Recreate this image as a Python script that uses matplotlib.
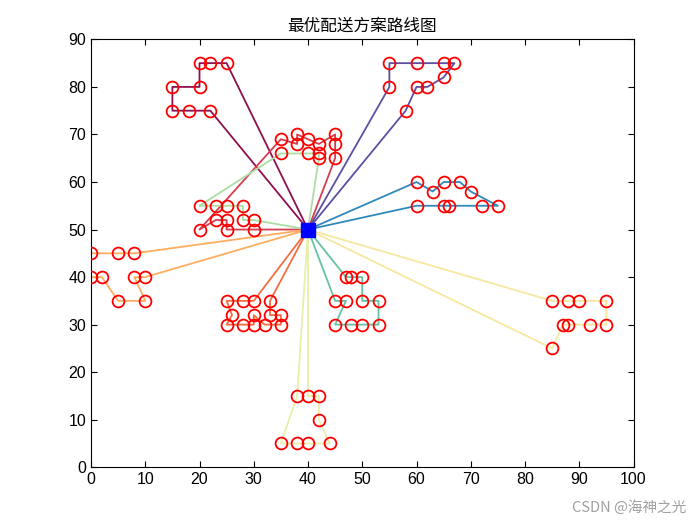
import matplotlib
matplotlib.use("Agg")
import matplotlib.pyplot as plt

plt.rcParams['font.family'] = ['Liberation Sans', 'Noto Sans CJK SC', 'DejaVu Sans']

depot = (40, 50)

# routes as lists of customer (x, y) coordinates
route_names = ["R1", "R2", "R3", "R4", "R5", "R6", "R7", "R8", "R9", "R10"]
routes_x = [
    [22, 18, 15, 15, 20, 20, 22, 25],
    [45, 45, 45, 42, 40, 38, 38, 35, 20, 23, 25, 25, 30],
    [33, 33, 35, 35, 32, 30, 30, 28, 25, 26, 25, 28, 30],
    [10, 8, 10, 5, 2, 0, 0, 5, 8],
    [85, 88, 90, 95, 95, 92, 88, 87, 85],
    [40, 42, 42, 44, 40, 38, 35, 38],
    [30, 28, 28, 25, 23, 20, 35, 40, 42, 42],
    [47, 48, 50, 50, 53, 53, 50, 48, 45, 47, 45],
    [60, 63, 65, 68, 70, 75, 72, 66, 65, 60],
    [55, 55, 60, 65, 67, 65, 62, 60, 58],
]
routes_y = [
    [75, 75, 75, 80, 80, 85, 85, 85],
    [65, 68, 70, 68, 69, 70, 68, 69, 50, 52, 52, 50, 50],
    [35, 32, 32, 30, 30, 32, 30, 30, 30, 32, 35, 35, 35],
    [40, 40, 35, 35, 40, 40, 45, 45, 45],
    [35, 35, 35, 35, 30, 30, 30, 30, 25],
    [15, 15, 10, 5, 5, 5, 5, 15],
    [52, 52, 55, 55, 55, 55, 66, 66, 66, 65],
    [40, 40, 40, 35, 35, 30, 30, 30, 30, 35, 35],
    [60, 58, 60, 60, 58, 55, 55, 55, 55, 55],
    [80, 85, 85, 85, 85, 82, 80, 80, 75],
]
route_colors = ["#8e1050", "#d53e4f", "#f46d43", "#fdae61", "#f6e8a0",
                "#e8f0a8", "#abdda4", "#66c2a5", "#3288bd", "#5e4fa2"]

fig = plt.figure(figsize=(7, 5.25), dpi=100)
ax = fig.add_axes([0.13, 0.11, 0.775, 0.815])

for xs, ys, c in zip(routes_x, routes_y, route_colors):
    px = [depot[0]] + xs + [depot[0]]
    py = [depot[1]] + ys + [depot[1]]
    ax.plot(px, py, '-', color=c, lw=1.3, zorder=2)

for xs, ys in zip(routes_x, routes_y):
    ax.plot(xs, ys, 'o', mfc='none', mec='red', ms=8.5, mew=1.3, zorder=3, ls='none')

ax.plot([depot[0]], [depot[1]], 's', color='blue', ms=10, zorder=4)

ax.set_xlim(0, 100)
ax.set_ylim(0, 90)
ax.set_xticks(range(0, 101, 10))
ax.set_yticks(range(0, 91, 10))
ax.tick_params(direction='in', top=True, right=True, labelsize=11.5, length=4, width=0.8)
for s in ax.spines.values():
    s.set_linewidth(0.8)
ax.set_title("最优配送方案路线图", fontsize=12, family=['Noto Sans CJK SC', 'DejaVu Sans'])

fig.text(0.98, 0.02, "CSDN @海神之光", ha='right', va='bottom', fontsize=10.5,
         color='#a0a0a0', family=['Noto Sans CJK SC', 'DejaVu Sans'])

fig.savefig("out.png", dpi=100)
